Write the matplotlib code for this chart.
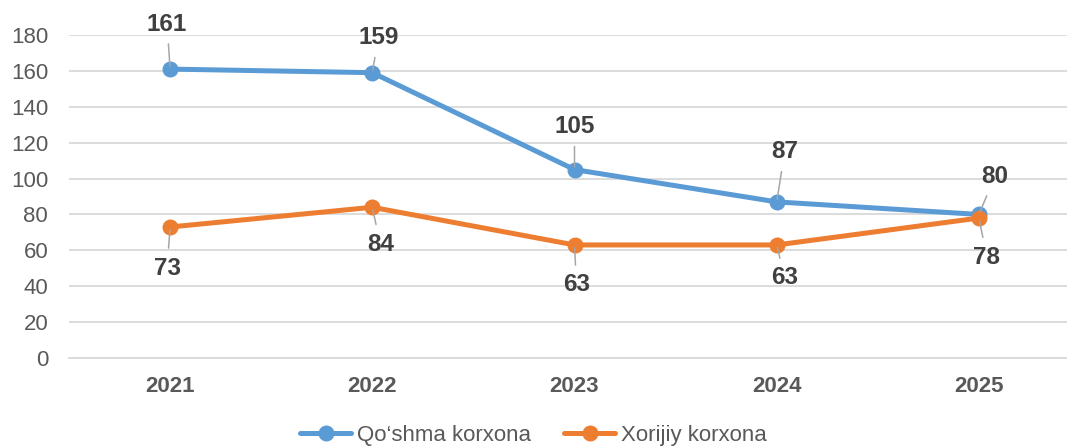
import matplotlib.pyplot as plt

plt.rcParams['font.family'] = ['Liberation Sans', 'DejaVu Sans']

years = ['2021', '2022', '2023', '2024', '2025']
qoshma = [161, 159, 105, 87, 80]
xorijiy = [73, 84, 63, 63, 78]

# label offsets in pixels (label centre relative to point)
qoshma_off = [(-3, 45), (6, 35), (0, 43), (8, 50), (16, 38)]
xorijiy_off = [(-3, -41), (8, -37), (2, -40), (8, -33), (8, -39)]

blue = '#5B9BD5'
orange = '#ED7D31'
grid = '#D9D9D9'
text_c = '#404040'
tick_c = '#595959'

fig = plt.figure(figsize=(10.67, 4.48), dpi=100)
ax = fig.add_axes([69 / 1067, 90 / 448, (1080 - 69) / 1067, 323 / 448])

x = range(len(years))
ax.plot(x, qoshma, color=blue, lw=3.6, marker='o', ms=10.5,
        label='Qo‘shma korxona', solid_capstyle='round', zorder=3)
ax.plot(x, xorijiy, color=orange, lw=3.6, marker='o', ms=10.5,
        label='Xorijiy korxona', solid_capstyle='round', zorder=3)

for vals, offs in ((qoshma, qoshma_off), (xorijiy, xorijiy_off)):
    for i, (v, off) in enumerate(zip(vals, offs)):
        ax.annotate(str(v), (i, v), xytext=off, textcoords='offset pixels',
                    ha='center', va='center', fontsize=17.5, fontweight='bold',
                    color=text_c, annotation_clip=False,
                    arrowprops=dict(arrowstyle='-', color='#A6A6A6', lw=1.1,
                                    shrinkA=4, shrinkB=2))

ax.set_xlim(-0.5, 4.5)
ax.set_ylim(0, 180)
ax.set_yticks(range(0, 181, 20))
ax.set_xticks(list(x))
ax.set_xticklabels(years, fontweight='bold')
ax.tick_params(axis='y', length=0, pad=15, labelsize=16, labelcolor=tick_c)
ax.tick_params(axis='x', length=0, pad=13, labelsize=16, labelcolor=tick_c)
ax.grid(axis='y', color=grid, lw=1.3)
ax.set_axisbelow(True)
for s in ['top', 'right', 'left']:
    ax.spines[s].set_visible(False)
ax.spines['bottom'].set_color(grid)
ax.spines['bottom'].set_linewidth(1.3)

fig.legend(loc='center', bbox_to_anchor=(0.5, 1 - 435 / 448), ncol=2,
           frameon=False, fontsize=16, handlelength=2.3, handletextpad=0.25,
           columnspacing=1.5, labelcolor=tick_c)

fig.savefig('out.png', dpi=100)
